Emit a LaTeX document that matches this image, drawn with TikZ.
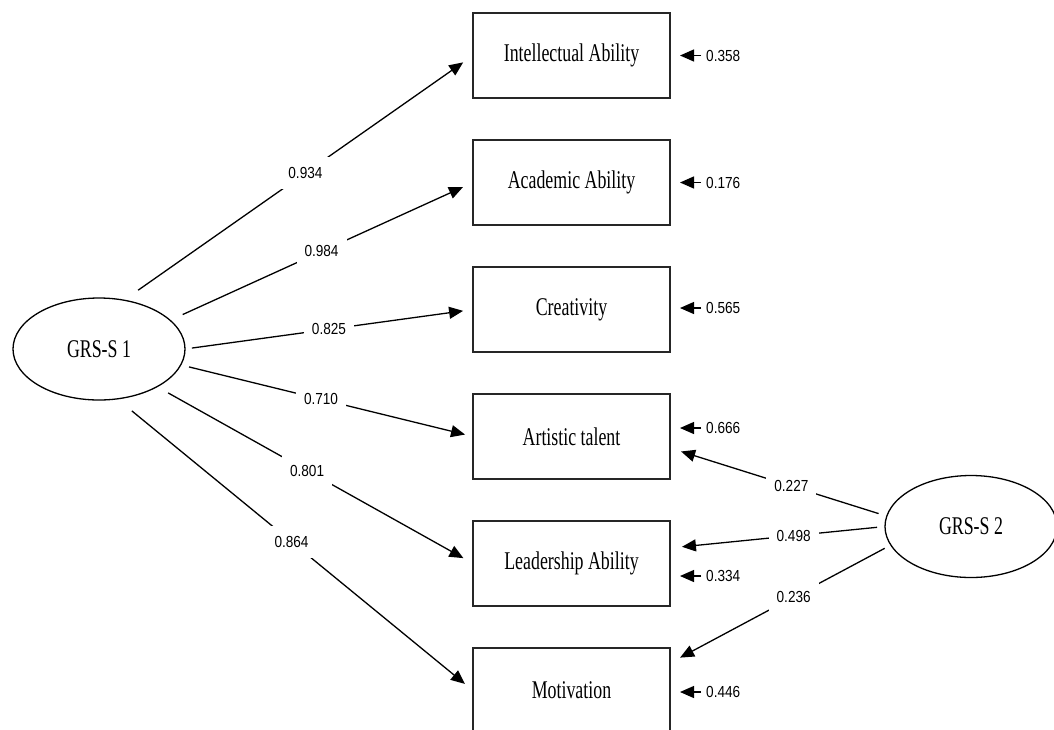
\documentclass[tikz,border=0pt]{standalone}
\usepackage{fontspec}
\newfontfamily\boxfont[FakeStretch=0.7]{Liberation Serif}
\newfontfamily\numfont[FakeStretch=0.85]{Liberation Sans}
\usetikzlibrary{arrows.meta,shapes.geometric,calc}
\begin{document}
\begin{tikzpicture}[x=1pt,y=-1pt,
  box/.style={draw=black!85, line width=1.2pt, rectangle, minimum width=197pt, minimum height=85pt, inner sep=0pt, outer sep=0pt, font=\boxfont\fontsize{25.5}{30}\selectfont},
  lat/.style={draw, line width=1.3pt, ellipse, minimum width=172pt, minimum height=102pt, inner sep=0pt, outer sep=0pt, font=\boxfont\fontsize{25.5}{30}\selectfont},
  link/.style={line width=1.3pt, -{Triangle[length=14pt,width=12pt]}},
  coef/.style={fill=white, inner sep=0pt, minimum width=50pt, minimum height=32pt, font=\numfont\fontsize{16}{19}\selectfont},
  err/.style={anchor=west, inner sep=0pt, font=\numfont\fontsize{16}{19}\selectfont}
]
\path[use as bounding box, fill=white] (0,0) rectangle (1054,729);
\clip (0,0) rectangle (1054,729);

\node[box] (b1) at (571.5,55.5) {Intellectual Ability};
\node[box] (b2) at (571.5,182.5) {Academic Ability};
\node[box] (b3) at (571.5,309.5) {Creativity};
\node[box] (b4) at (571.5,436.5) {Artistic talent};
\node[box] (b5) at (571.5,563.5) {Leadership Ability};
\node[box] (b6) at (571.5,690.5) {Motivation};
\node[lat] (g1) at (99,349) {GRS-S 1};
\node[lat] (g2) at (971,526.5) {GRS-S 2};

\draw[link, shorten <=17.4pt, shorten >=12pt] (g1.63) -- (b1.west) node[coef,pos=0.52] {0.934};
\draw[link, shorten <=13.9pt, shorten >=11pt] (g1.22.6) -- (b2.west) node[coef,pos=0.5] {0.984};
\draw[link, shorten <=7pt, shorten >=10pt] (g1.0) -- (b3.west) node[coef,pos=0.5] {0.825};
\draw[link, shorten <=8.6pt, shorten >=8.2pt] (g1.349) -- (b4.west) node[coef,pos=0.48] {0.710};
\draw[link, shorten <=12.7pt, shorten >=11pt] (g1.327) -- (b5.west) node[coef,pos=0.475] {0.801};
\draw[link, shorten <=19pt, shorten >=10.4pt] (g1.290.3) -- (b6.west) node[coef,pos=0.49] {0.864};

\draw[link, shorten <=8.6pt, shorten >=11.6pt] (g2.173.6) -- ($(b4.east)+(0,11.5)$) node[coef,pos=0.44] {0.227};
\draw[link, shorten <=8pt, shorten >=12pt] (g2.180.5) -- ($(b5.east)+(0,-15.5)$) node[coef,pos=0.425] {0.498};
\draw[link, shorten <=7pt, shorten >=11.4pt] (g2.193.6) -- ($(b6.east)+(0,-27.5)$) node[coef,pos=0.44] {0.236};

\node[err] (r1) at (706,55.5) {0.358};
\node[err] (r2) at (706,182.5) {0.176};
\node[err] (r3) at (706,308) {0.565};
\node[err] (r4) at (706,428) {0.666};
\node[err] (r5) at (706,576) {0.334};
\node[err] (r6) at (706,692) {0.446};
\foreach \i in {1,...,6}{
  \draw[link, shorten <=5pt, shorten >=10pt] (r\i.west) -- (r\i.west -| b\i.east);
}
\end{tikzpicture}
\end{document}
